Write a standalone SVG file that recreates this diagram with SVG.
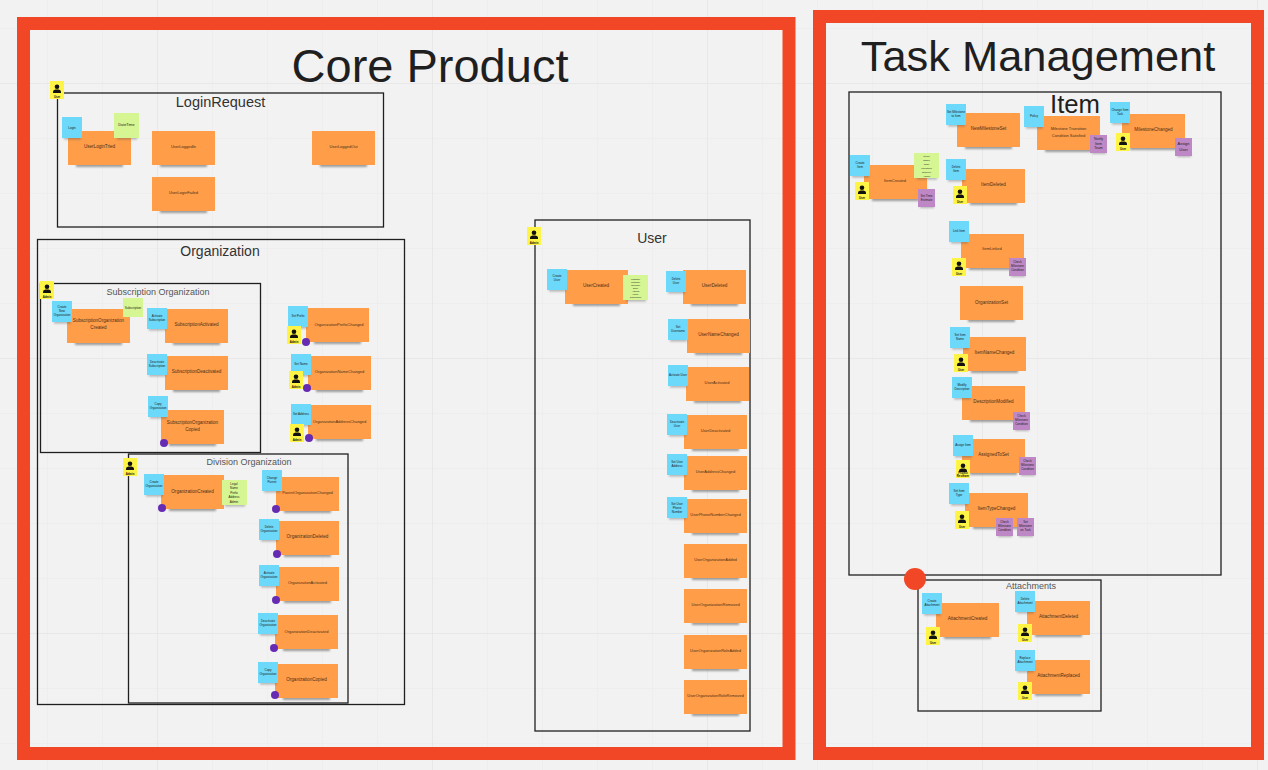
<svg xmlns="http://www.w3.org/2000/svg" width="1268" height="770" viewBox="0 0 1268 770">
<style>
text{font-family:"Liberation Sans",Arial,sans-serif;fill:#1f1f1f;text-anchor:middle}
.frame{fill:none;stroke:#1f1f1f;stroke-width:1.3}
.big{fill:none;stroke:#f24726;stroke-width:13}
.t{fill:#555;font-size:9px}
.o{font-size:4.6px;fill:#4a3018}
.s{font-size:4px;fill:#4a3018}
.n{font-size:3px;fill:#222}
.y{font-size:2.8px;fill:#111;font-weight:bold}
.dot{fill:#652cb3}
</style>
<defs>
<filter id="soft" x="-20%" y="-100%" width="140%" height="300%"><feGaussianBlur stdDeviation="1.3"/></filter>
<pattern id="minor" width="55" height="55" patternUnits="userSpaceOnUse" patternTransform="translate(47 28)"><path d="M0 0H55M0 0V55" fill="none" stroke="#e9e9e9" stroke-width="1"/></pattern>
<pattern id="major" width="275" height="275" patternUnits="userSpaceOnUse" patternTransform="translate(157 83)"><path d="M0 0H275M0 0V275" fill="none" stroke="#e2e2e2" stroke-width="1"/></pattern>
<g id="O"><rect x="8" y="30" width="47" height="6" fill="#555" opacity=".55" filter="url(#soft)"/><rect width="63" height="34" fill="#ff9d48"/></g>
<g id="B"><rect x="2" y="18" width="17" height="4.500" fill="#555" opacity=".4" filter="url(#soft)"/><rect width="20" height="21" fill="#6cd8fa"/></g>
<g id="G"><rect x="3" y="22" width="20" height="4.500" fill="#555" opacity=".4" filter="url(#soft)"/><rect width="25" height="25" fill="#d5f692"/></g>
<g id="P"><rect x="2" y="15" width="14" height="4" fill="#555" opacity=".4" filter="url(#soft)"/><rect width="17" height="18" fill="#be88c7"/></g>
<g id="Y"><rect width="14" height="18" fill="#fef445"/><circle cx="7" cy="5.800" r="2.300" fill="#111"/><path d="M3 12V10.500Q3 8.800 5.500 8.400H8.500Q11 8.800 11 10.500V12Z" fill="#111"/></g>
</defs>
<rect width="1268" height="770" fill="#f2f2f2"/>
<rect width="1268" height="770" fill="url(#minor)"/>
<rect width="1268" height="770" fill="url(#major)"/>

<g id="boundaries">
<rect class="big" x="23.500" y="23.500" width="765.500" height="730"/>
<rect class="big" x="819.500" y="16.500" width="438" height="737"/>
<text x="430" y="82" font-size="47">Core Product</text>
<text x="1038" y="71" font-size="43.400">Task Management</text>
</g>

<g id="frame-login"><rect class="frame" x="57.500" y="93" width="326" height="134"/><text x="220.500" y="107" font-size="14.500" style="fill:#333">LoginRequest</text></g>
<g id="frame-organization"><rect class="frame" x="37.500" y="239.500" width="367" height="465"/><text x="220" y="256" font-size="14" style="fill:#333">Organization</text></g>
<g id="frame-subscription"><rect class="frame" x="40.500" y="283.500" width="220" height="169"/><text class="t" x="158" y="295">Subscription Organization</text></g>
<g id="frame-division"><rect class="frame" x="128.500" y="454" width="219.500" height="249"/><text class="t" x="249" y="465">Division Organization</text></g>
<g id="frame-user"><rect class="frame" x="535" y="220" width="215" height="511"/><text x="652" y="243" font-size="14" style="fill:#333">User</text></g>
<g id="frame-item"><rect class="frame" x="849" y="92" width="372" height="483"/><text x="1075" y="113" font-size="25.700">Item</text></g>
<g id="frame-attachments"><rect class="frame" x="918" y="580" width="183" height="131"/><text class="t" x="1031" y="589">Attachments</text></g>

<g id="login-actor"><use href="#Y" x="50" y="81"/><text class="y" x="57" y="98">User</text></g>
<g id="user-login-tried"><use href="#O" x="68" y="131"/><text class="o" x="99.500" y="148">UserLoginTried</text><use href="#B" x="62" y="117"/><text class="n" x="72" y="128.500">Login</text><use href="#G" x="114" y="113"/><text class="n" x="126.500" y="125.500" style="font-size:3.800px">DateTime</text></g>
<g id="user-logged-in"><use href="#O" x="152" y="131"/><text class="s" x="183.500" y="148">UserLoggedIn</text></g>
<g id="user-logged-out"><use href="#O" x="312" y="131"/><text class="s" x="343.500" y="148">UserLoggedOut</text></g>
<g id="user-login-failed"><use href="#O" x="152" y="177"/><text class="s" x="183.500" y="194">UserLoginFailed</text></g>

<g id="subscription-actor"><rect x="40" y="281" width="14" height="18" fill="#fef445"/><use href="#Y" x="40" y="281"/><text class="y" x="47" y="298">Admin</text></g>
<g id="subscription-organization-created"><use href="#O" x="67" y="309"/><text class="o" x="98.500" y="322">SubscriptionOrganization</text><text class="o" x="98.500" y="329">Created</text><use href="#B" x="52" y="301"/><text class="n" x="62" y="307.500">Create</text><text class="n" x="62" y="311.500">New</text><text class="n" x="62" y="315.500">Organization</text><rect x="123" y="298" width="20" height="19" fill="#d5f692"/><text class="n" x="133" y="309">Subscription</text></g>
<g id="subscription-activated"><use href="#O" x="165" y="309"/><text class="o" x="196.500" y="326">SubscriptionActivated</text><use href="#B" x="147" y="308"/><text class="n" x="157" y="317">Activate</text><text class="n" x="157" y="321">Subscription</text></g>
<g id="subscription-deactivated"><use href="#O" x="165" y="356"/><text class="o" x="196.500" y="373">SubscriptionDeactivated</text><use href="#B" x="147" y="354"/><text class="n" x="157" y="363">Deactivate</text><text class="n" x="157" y="367">Subscription</text></g>
<g id="subscription-organization-copied"><use href="#O" x="161" y="410"/><text class="o" x="192.500" y="424">SubscriptionOrganization</text><text class="o" x="192.500" y="431">Copied</text><use href="#B" x="148" y="396"/><text class="n" x="158" y="405">Copy</text><text class="n" x="158" y="409">Organization</text><circle class="dot" cx="164" cy="443" r="4"/></g>

<g id="organization-prefix-changed"><use href="#O" x="306" y="308"/><text class="s" x="339" y="326">OrganizationPrefixChanged</text><use href="#B" x="288" y="306"/><text class="n" x="298" y="317">Set Prefix</text><use href="#Y" x="287" y="326"/><text class="y" x="294" y="343">Admin</text><circle class="dot" cx="306" cy="342" r="4"/></g>
<g id="organization-name-changed"><use href="#O" x="308" y="356"/><text class="s" x="339.500" y="373">OrganizationNameChanged</text><use href="#B" x="291" y="354"/><text class="n" x="301" y="365">Set Name</text><use href="#Y" x="289" y="371"/><text class="y" x="296" y="388">Admin</text><circle class="dot" cx="307" cy="388" r="4"/></g>
<g id="organization-address-changed"><use href="#O" x="308" y="405"/><text class="s" x="339.500" y="423">OrganizationAddressChanged</text><use href="#B" x="291" y="404"/><text class="n" x="301" y="415">Set Address</text><use href="#Y" x="290" y="424"/><text class="y" x="297" y="441">Admin</text><circle class="dot" cx="309" cy="438" r="4"/></g>

<g id="division-actor"><use href="#Y" x="123" y="458"/><text class="y" x="130" y="475">Admin</text></g>
<g id="organization-created"><use href="#O" x="161" y="475"/><text class="o" x="192.500" y="493">OrganizationCreated</text><use href="#B" x="144" y="474"/><text class="n" x="154" y="483">Create</text><text class="n" x="154" y="487">Organization</text><circle class="dot" cx="162" cy="508" r="4"/><use href="#G" x="222" y="480"/><text class="n" x="234" y="484.500">Legal</text><text class="n" x="234" y="489">Name</text><text class="n" x="234" y="493.500">Prefix</text><text class="n" x="234" y="498">Address</text><text class="n" x="234" y="502.500">Admin</text></g>
<g id="parent-organization-changed"><use href="#O" x="276" y="477"/><text class="s" x="307.500" y="494">ParentOrganizationChanged</text><use href="#B" x="262" y="470"/><text class="n" x="272" y="479">Change</text><text class="n" x="272" y="483">Parent</text><circle class="dot" cx="276" cy="509" r="4"/></g>
<g id="organization-deleted"><use href="#O" x="276" y="521"/><text class="o" x="307.500" y="538">OrganizationDeleted</text><use href="#B" x="259" y="519"/><text class="n" x="269" y="528">Delete</text><text class="n" x="269" y="532">Organization</text><circle class="dot" cx="277" cy="554" r="4"/></g>
<g id="organization-activated"><use href="#O" x="276" y="567"/><text class="s" x="307.500" y="584">OrganizationActivated</text><use href="#B" x="259" y="565"/><text class="n" x="269" y="574">Activate</text><text class="n" x="269" y="578">Organization</text><circle class="dot" cx="276" cy="600" r="4"/></g>
<g id="organization-deactivated"><use href="#O" x="275" y="615"/><text class="s" x="306.500" y="633">OrganizationDeactivated</text><use href="#B" x="258" y="613"/><text class="n" x="268" y="622">Deactivate</text><text class="n" x="268" y="626">Organization</text><circle class="dot" cx="274" cy="648" r="4"/></g>
<g id="organization-copied"><use href="#O" x="275" y="664"/><text class="o" x="306.500" y="681">OrganizationCopied</text><use href="#B" x="258" y="662"/><text class="n" x="268" y="671">Copy</text><text class="n" x="268" y="675">Organization</text><circle class="dot" cx="275" cy="695" r="4"/></g>

<g id="user-actor"><use href="#Y" x="527" y="227"/><text class="y" x="534" y="244">Admin</text></g>
<g id="user-created"><use href="#O" x="565" y="270"/><text class="o" x="596" y="287">UserCreated</text><use href="#B" x="547" y="269"/><text class="n" x="557" y="277">Create</text><text class="n" x="557" y="281">User</text><use href="#G" x="623" y="275"/><text class="n" style="font-size:2px" x="635.500" y="280">FirstName</text><text class="n" style="font-size:2px" x="635.500" y="283">LastName</text><text class="n" style="font-size:2px" x="635.500" y="286">Username</text><text class="n" style="font-size:2px" x="635.500" y="289">Email</text><text class="n" style="font-size:2px" x="635.500" y="292">Address</text><text class="n" style="font-size:2px" x="635.500" y="295">Phone</text><text class="n" style="font-size:2px" x="635.500" y="298">Organization</text></g>
<g id="user-deleted"><use href="#O" x="683" y="270"/><text class="o" x="714.500" y="287">UserDeleted</text><use href="#B" x="666" y="271"/><text class="n" x="676" y="280">Delete</text><text class="n" x="676" y="284">User</text></g>
<g id="user-name-changed"><use href="#O" x="687" y="319"/><text class="o" x="718.500" y="336">UserNameChanged</text><use href="#B" x="668" y="319"/><text class="n" x="678" y="328">Set</text><text class="n" x="678" y="332">Username</text></g>
<g id="user-activated"><use href="#O" x="686" y="367"/><text class="s" x="717" y="384">UserActivated</text><use href="#B" x="668" y="365"/><text class="n" x="678" y="376">Activate User</text></g>
<g id="user-deactivated"><use href="#O" x="684" y="415"/><text class="s" x="715.500" y="432">UserDeactivated</text><use href="#B" x="667" y="414"/><text class="n" x="677" y="423">Deactivate</text><text class="n" x="677" y="427">User</text></g>
<g id="user-address-changed"><use href="#O" x="684" y="456"/><text class="s" x="715.500" y="473">UserAddressChanged</text><use href="#B" x="667" y="454"/><text class="n" x="677" y="463">Set User</text><text class="n" x="677" y="467">Address</text></g>
<g id="user-phone-number-changed"><use href="#O" x="684" y="499"/><text class="s" x="715.500" y="516">UserPhoneNumberChanged</text><use href="#B" x="667" y="497"/><text class="n" x="677" y="505">Set User</text><text class="n" x="677" y="509">Phone</text><text class="n" x="677" y="513">Number</text></g>
<g id="user-organization-added"><use href="#O" x="684" y="544"/><text class="s" x="715.500" y="561">UserOrganizationAdded</text></g>
<g id="user-organization-removed"><use href="#O" x="684" y="589"/><text class="s" x="715.500" y="606">UserOrganizationRemoved</text></g>
<g id="user-organization-role-added"><use href="#O" x="684" y="635"/><text class="s" x="715.500" y="652">UserOrganizationRoleAdded</text></g>
<g id="user-organization-role-removed"><use href="#O" x="684" y="680"/><text class="s" x="715.500" y="697">UserOrganizationRoleRemoved</text></g>

<g id="new-milestone-set"><use href="#O" x="957" y="113"/><text class="o" x="988.500" y="130">NewMilestoneSet</text><use href="#B" x="946" y="104"/><text class="n" x="956" y="113">Set Milestone</text><text class="n" x="956" y="117">to Item</text></g>
<g id="milestone-transition-condition-satisfied"><use href="#O" x="1037" y="116"/><text class="s" x="1068.500" y="130">Milestone Transition</text><text class="s" x="1068.500" y="136.500">Condition Satisfied</text><use href="#B" x="1024" y="106"/><text class="n" x="1034" y="117">Policy</text><use href="#P" x="1090" y="135"/><text class="n" style="font-size:3.500px" x="1098.500" y="140">Notify</text><text class="n" style="font-size:3.500px" x="1098.500" y="144.500">Item</text><text class="n" style="font-size:3.500px" x="1098.500" y="149">Team</text></g>
<g id="milestone-changed"><use href="#O" x="1122" y="114"/><text class="o" x="1153.500" y="131">MilestoneChanged</text><use href="#B" x="1110" y="102"/><text class="n" x="1120" y="111">Change Item</text><text class="n" x="1120" y="115">Task</text><use href="#Y" x="1116" y="133"/><text class="y" x="1123" y="150">User</text><use href="#P" x="1175" y="138"/><text class="n" style="font-size:4px" x="1183.500" y="145">Assign</text><text class="n" style="font-size:4px" x="1183.500" y="151">User</text></g>
<g id="item-created"><use href="#O" x="864" y="165"/><text class="s" x="895" y="182">ItemCreated</text><use href="#B" x="850" y="155"/><text class="n" x="860" y="164">Create</text><text class="n" x="860" y="168">Item</text><use href="#Y" x="855" y="182"/><text class="y" x="862" y="199">User</text><use href="#G" x="914" y="153"/><text class="n" style="font-size:2.500px" x="926.500" y="157">Item?</text><text class="n" style="font-size:2.500px" x="926.500" y="161">Name</text><text class="n" style="font-size:2.500px" x="926.500" y="165">Start</text><text class="n" style="font-size:2.500px" x="926.500" y="169">Milestone</text><text class="n" style="font-size:2.500px" x="926.500" y="173">SetType</text><text class="n" style="font-size:2.500px" x="926.500" y="177">Admin</text><use href="#P" x="918" y="189"/><text class="n" x="926.500" y="197">Set Time</text><text class="n" x="926.500" y="201">Estimate</text></g>
<g id="item-deleted"><use href="#O" x="962" y="169"/><text class="o" x="993.500" y="186">ItemDeleted</text><use href="#B" x="946" y="159"/><text class="n" x="956" y="168">Delete</text><text class="n" x="956" y="172">Item</text><use href="#Y" x="953" y="186"/><text class="y" x="960" y="203">User</text></g>
<g id="item-linked"><use href="#O" x="961" y="234"/><text class="s" x="992" y="250">ItemLinked</text><use href="#B" x="949" y="221"/><text class="n" x="959" y="232">Link Item</text><use href="#Y" x="952" y="258"/><text class="y" x="959" y="275">User</text><use href="#P" x="1009" y="258"/><text class="n" x="1017.500" y="263">Check</text><text class="n" x="1017.500" y="267">Milestone</text><text class="n" x="1017.500" y="271">Condition</text></g>
<g id="organization-set"><use href="#O" x="960" y="286"/><text class="o" x="991.500" y="304">OrganizationSet</text></g>
<g id="item-name-changed"><use href="#O" x="963" y="337"/><text class="o" x="994.500" y="354">ItemNameChanged</text><use href="#B" x="950" y="327"/><text class="n" x="960" y="336">Set Item</text><text class="n" x="960" y="340">Name</text><use href="#Y" x="954" y="354"/><text class="y" x="961" y="371">User</text></g>
<g id="description-modified"><use href="#O" x="962" y="386"/><text class="o" x="993.500" y="403">DescriptionModified</text><use href="#B" x="952" y="377"/><text class="n" x="962" y="386">Modify</text><text class="n" x="962" y="390">Description</text><use href="#P" x="1013" y="412"/><text class="n" x="1021.500" y="417">Check</text><text class="n" x="1021.500" y="421">Milestone</text><text class="n" x="1021.500" y="425">Condition</text></g>
<g id="assigned-to-set"><use href="#O" x="962" y="439"/><text class="o" x="993.500" y="456">AssignedToSet</text><use href="#B" x="953" y="435"/><text class="n" x="963" y="446">Assign Item</text><use href="#Y" x="956" y="460"/><text class="y" x="963" y="474">Project</text><text class="y" x="963" y="477">Reviewer</text><use href="#P" x="1019" y="457"/><text class="n" x="1027.500" y="462">Check</text><text class="n" x="1027.500" y="466">Milestone</text><text class="n" x="1027.500" y="470">Condition</text></g>
<g id="item-type-changed"><use href="#O" x="965" y="493"/><text class="o" x="996.500" y="510">ItemTypeChanged</text><use href="#B" x="949" y="483"/><text class="n" x="959" y="492">Set Item</text><text class="n" x="959" y="496">Type</text><use href="#Y" x="955" y="511"/><text class="y" x="962" y="528">User</text><use href="#P" x="996" y="518"/><text class="n" x="1004.500" y="523">Check</text><text class="n" x="1004.500" y="527">Milestone</text><text class="n" x="1004.500" y="531">Condition</text><use href="#P" x="1017" y="518"/><text class="n" x="1025.500" y="523">Set</text><text class="n" x="1025.500" y="527">Milestone</text><text class="n" x="1025.500" y="531">on Task</text></g>

<g id="attachment-created"><use href="#O" x="936" y="603"/><text class="o" x="967.500" y="620">AttachmentCreated</text><use href="#B" x="922" y="593"/><text class="n" x="932" y="602">Create</text><text class="n" x="932" y="606">Attachment</text><use href="#Y" x="926" y="627"/><text class="y" x="933" y="644">User</text></g>
<g id="attachment-deleted"><use href="#O" x="1027" y="601"/><text class="o" x="1058.500" y="618">AttachmentDeleted</text><use href="#B" x="1015" y="591"/><text class="n" x="1025" y="600">Delete</text><text class="n" x="1025" y="604">Attachment</text><use href="#Y" x="1018" y="624"/><text class="y" x="1025" y="641">User</text></g>
<g id="attachment-replaced"><use href="#O" x="1027" y="660"/><text class="o" x="1058.500" y="677">AttachmentReplaced</text><use href="#B" x="1015" y="650"/><text class="n" x="1025" y="659">Replace</text><text class="n" x="1025" y="663">Attachment</text><use href="#Y" x="1018" y="682"/><text class="y" x="1025" y="699">User</text></g>
<circle id="marker-red" cx="915" cy="579" r="11" fill="#f24726"/>
</svg>
